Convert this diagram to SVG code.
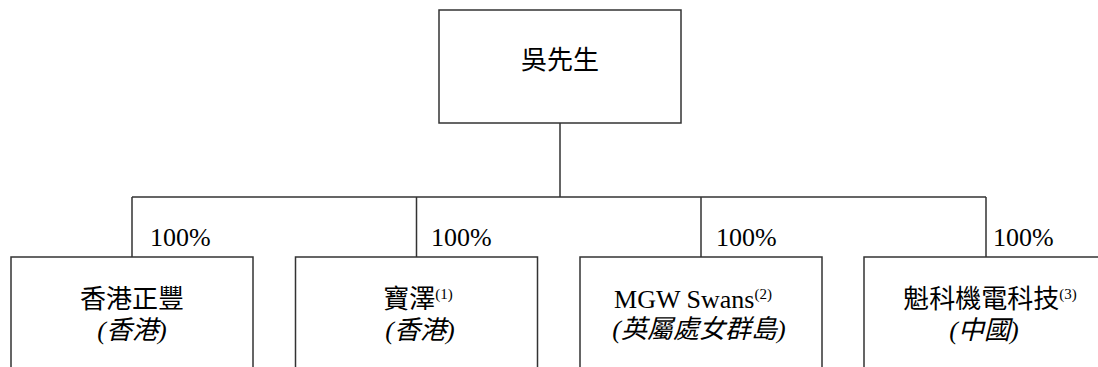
<svg xmlns="http://www.w3.org/2000/svg" width="1098" height="367" viewBox="0 0 1098 367">
<rect width="1098" height="367" fill="#ffffff"/>
<g id="connectors" fill="none" stroke="#333333" stroke-width="1.5">
<path d="M560,123V197M132,197H986M132,197V257M416.5,197V257M701,197V257M986,197V257"/>
</g>
<text x="150" y="246" font-family="Liberation Serif, serif" font-size="26">100%</text>
<text x="431" y="246" font-family="Liberation Serif, serif" font-size="26">100%</text>
<text x="716" y="246" font-family="Liberation Serif, serif" font-size="26">100%</text>
<text x="993" y="246" font-family="Liberation Serif, serif" font-size="26">100%</text>
<g id="node-top">
<rect x="439" y="10" width="242" height="113" fill="#ffffff" stroke="#333333" stroke-width="1.5"/>
<text x="560" y="69" text-anchor="middle" font-family="Noto Sans CJK TC, serif" font-size="26">吳先生</text>
</g>
<g id="node-1">
<rect x="11" y="257" width="242" height="120" fill="#ffffff" stroke="#333333" stroke-width="1.5"/>
<text x="132" y="308" text-anchor="middle" font-family="Noto Sans CJK TC, serif" font-size="26">香港正豐</text>
<text x="132" y="339" text-anchor="middle" font-style="italic" font-family="Liberation Serif, Noto Sans CJK TC, serif" font-size="26">(香港)</text>
</g>
<g id="node-2">
<rect x="295.5" y="257" width="242" height="120" fill="#ffffff" stroke="#333333" stroke-width="1.5"/>
<text x="418" y="308" text-anchor="middle" font-family="Noto Sans CJK TC, serif" font-size="26">寶澤<tspan font-family="Liberation Serif, serif" font-size="15" dy="-9">(1)</tspan></text>
<text x="420" y="339" text-anchor="middle" font-style="italic" font-family="Liberation Serif, Noto Sans CJK TC, serif" font-size="26">(香港)</text>
</g>
<g id="node-3">
<rect x="580" y="257" width="242" height="120" fill="#ffffff" stroke="#333333" stroke-width="1.5"/>
<text x="693" y="308" text-anchor="middle" font-family="Liberation Serif, serif" font-size="26">MGW Swans<tspan font-size="15" dy="-9">(2)</tspan></text>
<text x="699" y="338" text-anchor="middle" font-style="italic" font-family="Liberation Serif, Noto Sans CJK TC, serif" font-size="26">(英屬處女群島)</text>
</g>
<g id="node-4">
<rect x="864" y="257" width="242" height="120" fill="#ffffff" stroke="#333333" stroke-width="1.5"/>
<text x="990" y="308" text-anchor="middle" font-family="Noto Sans CJK TC, serif" font-size="26">魁科機電科技<tspan font-family="Liberation Serif, serif" font-size="15" dy="-9">(3)</tspan></text>
<text x="984" y="339" text-anchor="middle" font-style="italic" font-family="Liberation Serif, Noto Sans CJK TC, serif" font-size="26">(中國)</text>
</g>
</svg>
